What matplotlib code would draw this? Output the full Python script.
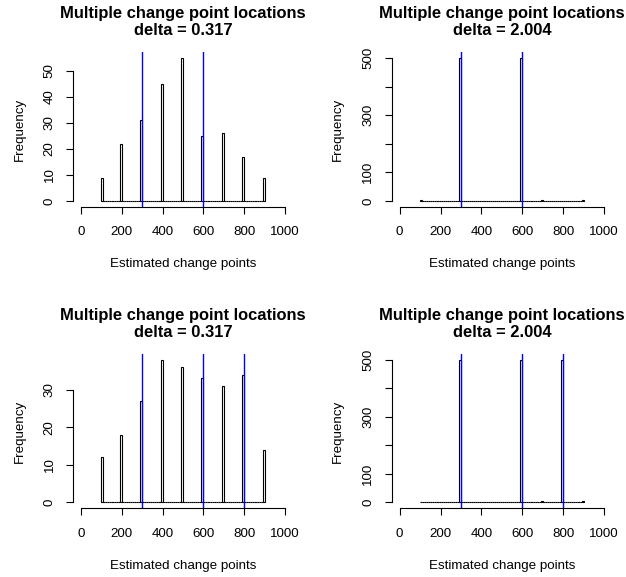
import matplotlib
matplotlib.use("Agg")
import matplotlib.pyplot as plt
import numpy as np

plt.rcParams['font.family'] = ['Liberation Sans', 'DejaVu Sans']

# estimated change point locations and how often each was found
locations = [100, 200, 300, 400, 500, 600, 700, 800, 900]
counts_tl = [9, 22, 31, 45, 55, 25, 26, 17, 9]
counts_tr = [4, 1, 500, 1, 1, 500, 2, 1, 2]
counts_bl = [12, 18, 27, 38, 36, 33, 31, 34, 14]
counts_br = [1, 1, 500, 2, 1, 500, 3, 500, 4]

true_cp_top = [300, 600]
true_cp_bottom = [300, 600, 800]

deltas = ["0.317", "2.004", "0.317", "2.004"]
yticks_tl = [0, 10, 20, 30, 40, 50]
yticks_bl = [0, 10, 20, 30]
yticks_big = [0, 100, 200, 300, 400, 500]
ylabels_big = ["0", "100", "", "300", "", "500"]

breaks = np.arange(100, 901, 10)


def r_hist_heights(locs, counts):
    # R hist() bins are right-closed, first bin includes its lower edge
    h = np.zeros(len(breaks) - 1)
    for loc, c in zip(locs, counts):
        idx = int(np.ceil((loc - breaks[0]) / 10.0)) - 1
        idx = max(idx, 0)
        h[idx] += c
    return h


def panel(ax, counts, cps, delta, yticks, ylabels=None):
    h = r_hist_heights(locations, counts)
    ax.bar(breaks[:-1], h, width=10, align='edge', facecolor='white',
           edgecolor='black', linewidth=0.8)
    top = max(counts)
    ax.set_xlim(-40, 1040)
    ax.set_ylim(-0.04 * top, 1.04 * top)
    for cp in cps:
        ax.axvline(cp, color='blue', linewidth=1.0)
    ax.spines['top'].set_visible(False)
    ax.spines['right'].set_visible(False)
    ax.spines['left'].set_bounds(yticks[0], yticks[-1])
    ax.spines['bottom'].set_bounds(0, 1000)
    ax.set_xticks([0, 200, 400, 600, 800, 1000])
    ax.set_yticks(yticks)
    if ylabels is not None:
        ax.set_yticklabels(ylabels)
    for lab in ax.get_yticklabels():
        lab.set_rotation(90)
        lab.set_verticalalignment('center')
    ax.tick_params(axis='both', labelsize=9.6, length=4.8, width=0.8)
    ax.tick_params(axis='x', pad=9.3)
    ax.tick_params(axis='y', pad=7.5)
    ax.set_title("Multiple change point locations\ndelta = " + delta,
                 fontsize=11.9, fontweight='bold', pad=12.5, linespacing=1.12)
    ax.set_xlabel("Estimated change points", fontsize=9.6, labelpad=14.5)
    ax.set_ylabel("Frequency", fontsize=9.6, labelpad=13)


fig = plt.figure(figsize=(6.26, 5.77), dpi=100)
ax1 = fig.add_axes([0.1161, 0.6418, 0.3524, 0.2676])
ax2 = fig.add_axes([0.6254, 0.6418, 0.3526, 0.2676])
ax3 = fig.add_axes([0.1161, 0.1196, 0.3524, 0.2669])
ax4 = fig.add_axes([0.6254, 0.1196, 0.3526, 0.2669])

panel(ax1, counts_tl, true_cp_top, deltas[0], yticks_tl)
panel(ax2, counts_tr, true_cp_top, deltas[1], yticks_big, ylabels_big)
panel(ax3, counts_bl, true_cp_bottom, deltas[2], yticks_bl)
panel(ax4, counts_br, true_cp_bottom, deltas[3], yticks_big, ylabels_big)

fig.savefig("out.png", dpi=100)
